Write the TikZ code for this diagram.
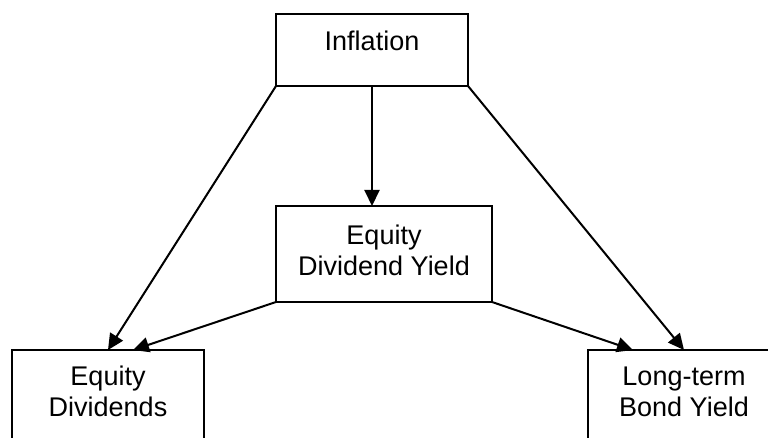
\documentclass[tikz,border=0pt]{standalone}
\usepackage{fontspec}
\setmainfont{Liberation Sans}
\usetikzlibrary{arrows.meta}
\begin{document}
\begin{tikzpicture}[x=1pt,y=-1pt,
  box/.style={draw=black, line width=2pt, rectangle, inner sep=0pt, outer sep=0pt, anchor=north west},
  boxtext/.style={font=\fontsize{27}{31}\selectfont, align=center, inner sep=0pt, outer sep=0pt, anchor=north},
  arr/.style={line width=2pt, -{Triangle[length=16pt,width=15pt]}}]
\useasboundingbox (0,0) rectangle (768,438);
\clip (0,0) rectangle (768,438);
\node[box, minimum width=192pt, minimum height=72pt,
  label={[boxtext, yshift=-17pt]north:Inflation}] (inf) at (276,14) {};
\node[box, minimum width=216pt, minimum height=96pt,
  label={[boxtext, yshift=-19pt]north:Equity\\Dividend Yield}] (edy) at (276,206) {};
\node[box, minimum width=192pt, minimum height=96pt,
  label={[boxtext, yshift=-16pt]north:Equity\\Dividends}] (ed) at (12,350) {};
\node[box, minimum width=192pt, minimum height=96pt,
  label={[boxtext, yshift=-17pt]north:Long-term\\Bond Yield}] (ltb) at (588,350) {};
\draw[arr] (inf.south) -- (inf.south |- edy.north);
\draw[arr] (inf.south west) -- (ed.north);
\draw[arr] (edy.south west) -- ([xshift=25pt]ed.north);
\draw[arr] (inf.south east) -- (ltb.north);
\draw[arr] (edy.south east) -- ([xshift=-51pt]ltb.north);
\end{tikzpicture}
\end{document}
